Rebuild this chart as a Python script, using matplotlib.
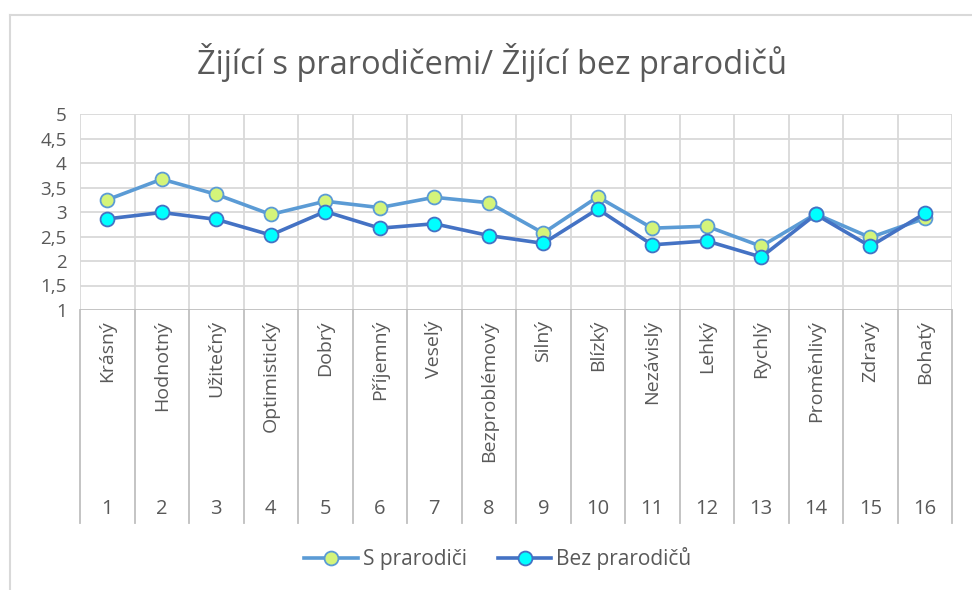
#!/usr/bin/env python3

import numpy as np
import matplotlib.pyplot as plt
from matplotlib.lines import Line2D

plt.rcParams['font.family'] = ['Open Sans', 'DejaVu Sans']

# data
kategorie = ['Krásný', 'Hodnotný', 'Užitečný', 'Optimistický', 'Dobrý', 'Příjemný',
             'Veselý', 'Bezproblémový', 'Silný', 'Blízký', 'Nezávislý', 'Lehký',
             'Rychlý', 'Proměnlivý', 'Zdravý', 'Bohatý']
cisla = [str(i) for i in range(1, 17)]
s_prarodici = [3.25, 3.67, 3.36, 2.95, 3.22, 3.09, 3.30, 3.19,
               2.57, 3.31, 2.67, 2.71, 2.30, 2.96, 2.48, 2.87]
bez_prarodicu = [2.86, 2.99, 2.85, 2.53, 3.01, 2.67, 2.76, 2.52,
                 2.36, 3.06, 2.33, 2.41, 2.08, 2.95, 2.30, 2.97]
y_ticky = [1, 1.5, 2, 2.5, 3, 3.5, 4, 4.5, 5]
nazev = 'Žijící s prarodičemi/ Žijící bez prarodičů'

text_col = '#595959'
grid_col = '#d9d9d9'
osa_col = '#bfbfbf'

fig = plt.figure(figsize=(9.72, 5.90), dpi=100)
W, H = 972, 590

# okraj grafu (viditelny jen nahore a vlevo)
fig.add_artist(Line2D([10/W, 10/W], [0, 1 - 15/H], color=grid_col, lw=1.5))
fig.add_artist(Line2D([10/W, 1], [1 - 15/H, 1 - 15/H], color=grid_col, lw=1.5))

ax = fig.add_axes([80/W, 1 - 310/H, (952 - 80)/W, (310 - 114)/H])
x = np.arange(1, len(kategorie) + 1)

ax.set_xlim(0.5, len(kategorie) + 0.5)
ax.set_ylim(1, 5)
ax.set_yticks(y_ticky)
ax.set_yticklabels([('%g' % v).replace('.', ',') for v in y_ticky])
ax.tick_params(axis='y', length=0, labelsize=13.5, labelcolor=text_col, pad=9.5)
ax.set_xticks([])
for s in ax.spines.values():
    s.set_visible(False)

for v in y_ticky[1:]:
    ax.axhline(v, color=grid_col, lw=1.3, zorder=0)
for b in np.arange(0.5, len(kategorie) + 1, 1.0):
    ax.axvline(b, color=grid_col, lw=1.3, zorder=0)
ax.axhline(1, color=osa_col, lw=1.3, zorder=1)

# oblast popisku kategorii pod osou
trans = ax.get_xaxis_transform()
vyska = 310 - 114
dolni = -(523 - 310) / vyska
for b in np.arange(0.5, len(kategorie) + 1, 1.0):
    ax.plot([b, b], [0, dolni], color=osa_col, lw=1.3, transform=trans, clip_on=False)
for xi, k, c in zip(x, kategorie, cisla):
    ax.text(xi, -(320 - 310) / vyska, k, transform=trans, rotation=90,
            ha='center', va='top', fontsize=14, color=text_col)
    ax.text(xi, -(509 - 310) / vyska, c, transform=trans,
            ha='center', va='center', fontsize=14.5, color=text_col)

ax.plot(x, s_prarodici, color='#5b9bd5', lw=2.6, marker='o', markersize=10,
        markerfacecolor='#d4f47a', markeredgecolor='#5b9bd5', markeredgewidth=1.3,
        label='S prarodiči', zorder=3)
ax.plot(x, bez_prarodicu, color='#4472c4', lw=2.6, marker='o', markersize=10,
        markerfacecolor='#00ffff', markeredgecolor='#4472c4', markeredgewidth=1.3,
        label='Bez prarodičů', zorder=4)

fig.text(492/W, 1 - 62/H, nazev, ha='center', va='center', fontsize=23.5,
         color=text_col)

fig.legend(loc='center', bbox_to_anchor=(498/W, 1 - 559/H), ncol=2, frameon=False,
           fontsize=15, labelcolor=text_col, handlelength=2.55, columnspacing=1.5,
           handletextpad=0.25)

fig.savefig('out.png', dpi=100)
